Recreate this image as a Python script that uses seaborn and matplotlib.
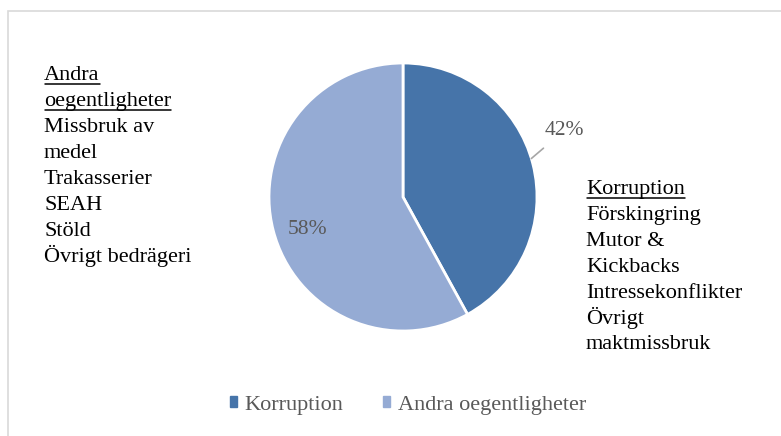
import numpy as np
import matplotlib
matplotlib.use("Agg")
import matplotlib.pyplot as plt
import matplotlib.patches as mpatches
import matplotlib.lines as mlines
import seaborn as sns

kategorier = ["Korruption", "Andra oegentligheter"]
andelar = [42, 58]
farger = ["#4674a9", "#95abd4"]

korruption_rubrik = ["Korruption"]
korruption_typer = ["Förskingring", "Mutor &", "Kickbacks", "Intressekonflikter",
                    "Övrigt", "maktmissbruk"]
andra_rubrik = ["Andra", "oegentligheter"]
andra_typer = ["Missbruk av", "medel", "Trakasserier", "SEAH", "Stöld",
               "Övrigt bedrägeri"]

sns.set_style("white")
plt.rcParams["font.family"] = ["Liberation Serif", "DejaVu Serif"]

W, H = 781, 436
fig = plt.figure(figsize=(W / 100, H / 100), dpi=100)

# ram runt diagrammet
fig.patches.append(mpatches.Rectangle(
    (8 / W, -0.1), 1.1, 1 - 11 / H + 0.1,
    transform=fig.transFigure, fill=False, edgecolor="#d9d9d9", linewidth=1.2
))

ax = fig.add_axes([269 / W, 105 / H, 268 / W, 268 / H])

wedges, _ = ax.pie(
    andelar,
    colors=farger,
    startangle=90,
    counterclock=False,
    wedgeprops=dict(edgecolor="white", linewidth=2),
)
ax.set_xlim(-1, 1)
ax.set_ylim(-1, 1)
ax.set_aspect("equal")
ax.axis("off")

# procentetiketter
for w, v in zip(wedges, andelar):
    mitt = np.deg2rad((w.theta1 + w.theta2) / 2)
    if v < 50:
        ax.annotate(
            f"{v}%",
            xy=(np.cos(mitt + 0.04), np.sin(mitt + 0.04)),
            xytext=(1.06, 0.50),
            ha="left", va="center", fontsize=15.5, color="#595959",
            arrowprops=dict(arrowstyle="-", color="#a6a6a6", lw=1.2,
                            shrinkA=6, shrinkB=0),
            annotation_clip=False,
        )
    else:
        ax.text(-0.716, -0.246, f"{v}%",
                ha="center", va="center", fontsize=15.5, color="#595959")


# textblock med undergrupper, rubriker understrukna
def textblock(x, y_baslinje, rubriker, rader, steg=25.9):
    rubrik_texter = []
    for i, rad in enumerate(rubriker + rader):
        t = fig.text(x / W, 1 - (y_baslinje + i * steg) / H, rad, ha="left",
                     va="baseline", fontsize=16, color="black")
        if i < len(rubriker):
            rubrik_texter.append(t)
    return rubrik_texter


rubriker = textblock(44, 80.5, andra_rubrik, andra_typer)
rubriker += textblock(586, 194, korruption_rubrik, korruption_typer)

renderer = fig.canvas.get_renderer()
for t in rubriker:
    bb = t.get_window_extent(renderer)
    y = t.get_position()[1] * H - 3.8
    fig.lines.append(mlines.Line2D(
        [(bb.x0 + 1) / W, bb.x1 / W], [y / H, y / H],
        transform=fig.transFigure, color="black", linewidth=1.1
    ))

handles = [mpatches.Patch(color=c) for c in farger]
fig.legend(
    handles, kategorier,
    loc="center", bbox_to_anchor=(408 / W, 1 - 405 / H),
    ncol=2, frameon=False, fontsize=16, labelcolor="#595959",
    handlelength=0.32, handleheight=0.32, handletextpad=0.35, columnspacing=1.8,
)

fig.savefig("out.png", dpi=100)
